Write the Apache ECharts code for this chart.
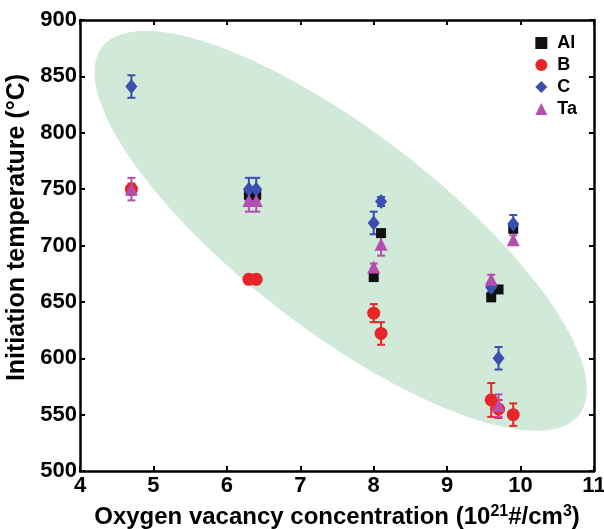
<!DOCTYPE html>
<html>
<head>
<meta charset="utf-8">
<script src="https://cdn.jsdelivr.net/npm/echarts@6/dist/echarts.min.js"></script>
<style>
  html, body { margin: 0; padding: 0; background: #fff; }
  #main { width: 604px; height: 529px; }
</style>
</head>
<body>
<div id="main"></div>
<script>
// 数据：[x, y, 误差]
var alData = [[6.3, 745, 0], [6.4, 745, 0], [8.0, 672, 0], [8.1, 711, 0], [9.6, 654, 0], [9.7, 661, 0], [9.9, 715, 0]];
var bData  = [[4.7, 750, 5], [6.3, 670, 4], [6.4, 670, 4], [8.0, 640, 8], [8.1, 622, 10], [9.6, 563, 15], [9.7, 555, 8], [9.9, 550, 10]];
var cData  = [[4.7, 841, 10], [6.3, 750, 10], [6.4, 750, 10], [8.0, 720, 10], [8.1, 739, 4], [9.6, 663, 4], [9.7, 600, 10], [9.9, 719, 8]];
var taData = [[4.7, 750, 10], [6.3, 740, 10], [6.4, 740, 10], [8.0, 681, 3], [8.1, 701, 10], [9.6, 670, 4], [9.7, 558, 10], [9.9, 705, 4]];

var xTicks = [4, 11, 1];
var yTicks = [500, 900, 50];

// 椭圆：长轴两端（数据坐标）和短轴/长轴比例
var ellipseEnds = [[4.3, 876], [10.8, 550]];
var ellipseRatio = 0.33;

var font = 'Liberation Sans, Arial, Helvetica, sans-serif';

function errSeries(name, data, color) {
    return {
        name: name + ' err',
        type: 'custom',
        z: 3,
        silent: true,
        data: data,
        renderItem: function (params, api) {
            var x = api.value(0), y = api.value(1), e = api.value(2);
            if (!e) return null;
            var top = api.coord([x, y + e]);
            var bot = api.coord([x, y - e]);
            var w = 4;
            var st = { stroke: color, lineWidth: 2 };
            return {
                type: 'group',
                children: [
                    { type: 'line', shape: { x1: top[0], y1: top[1], x2: bot[0], y2: bot[1] }, style: st },
                    { type: 'line', shape: { x1: top[0] - w, y1: top[1], x2: top[0] + w, y2: top[1] }, style: st },
                    { type: 'line', shape: { x1: bot[0] - w, y1: bot[1], x2: bot[0] + w, y2: bot[1] }, style: st }
                ]
            };
        }
    };
}

function pointSeries(name, data, color, symbol, size, z) {
    return {
        name: name,
        type: 'scatter',
        z: z,
        symbol: symbol,
        symbolSize: size,
        itemStyle: { color: color, opacity: 1 },
        data: data.map(function (d) { return [d[0], d[1]]; })
    };
}

var myChart = echarts.init(document.getElementById('main'));

var option = {
    animation: false,
    backgroundColor: '#fff',
    grid: { left: 80, right: 10, top: 20, bottom: 58, outerBoundsMode: 'none' },
    legend: {
        data: ['Al', 'B', 'C', 'Ta'],
        orient: 'vertical',
        right: 22,
        top: 29,
        itemWidth: 12,
        itemHeight: 12,
        itemGap: 4,
        textStyle: { fontFamily: font, fontWeight: 'bold', fontSize: 18, color: '#000', padding: [0, 0, 0, 5] }
    },
    xAxis: [{
        type: 'value',
        min: xTicks[0], max: xTicks[1], interval: xTicks[2],
        name: 'Oxygen vacancy concentration (10{sup|21}#/cm{sup|3})',
        nameLocation: 'middle',
        nameGap: 33,
        nameTextStyle: {
            fontFamily: font, fontWeight: 'bold', fontSize: 24, color: '#000',
            rich: { sup: { fontFamily: font, fontWeight: 'bold', fontSize: 16, color: '#000', verticalAlign: 'top', padding: [0, 0, 11, 0] } }
        },
        axisLine: { onZero: false, lineStyle: { color: '#000', width: 2.5 } },
        axisTick: { inside: true, length: 5, lineStyle: { color: '#000', width: 2 } },
        axisLabel: { fontFamily: font, fontWeight: 'bold', fontSize: 22, color: '#000', margin: 4 },
        splitLine: { show: false }
    }, {
        type: 'value', position: 'top',
        min: xTicks[0], max: xTicks[1], interval: xTicks[2],
        axisLine: { show: true, lineStyle: { color: '#000', width: 2.5 } },
        axisTick: { inside: true, length: 5, lineStyle: { color: '#000', width: 2 } },
        axisLabel: { show: false },
        splitLine: { show: false }
    }],
    yAxis: [{
        type: 'value',
        min: yTicks[0], max: yTicks[1], interval: yTicks[2],
        name: 'Initiation temperature (°C)',
        nameLocation: 'middle',
        nameGap: 50,
        nameMoveOverlap: false,
        nameTextStyle: { fontFamily: font, fontWeight: 'bold', fontSize: 25, color: '#000', padding: [0, 0, 0, 36] },
        axisLine: { show: true, onZero: false, lineStyle: { color: '#000', width: 2.5 } },
        axisTick: { show: true, inside: true, length: 5, lineStyle: { color: '#000', width: 2 } },
        axisLabel: { fontFamily: font, fontWeight: 'bold', fontSize: 22, color: '#000', margin: 3 },
        splitLine: { show: false }
    }, {
        type: 'value', position: 'right',
        min: yTicks[0], max: yTicks[1], interval: yTicks[2],
        axisLine: { show: true, lineStyle: { color: '#000', width: 2.5 } },
        axisTick: { show: true, inside: true, length: 5, lineStyle: { color: '#000', width: 2 } },
        axisLabel: { show: false },
        splitLine: { show: false }
    }],
    series: [
        {
            name: 'ellipse',
            type: 'custom',
            z: 1,
            silent: true,
            data: [[0]],
            renderItem: function (params, api) {
                var p1 = api.coord(ellipseEnds[0]);
                var p2 = api.coord(ellipseEnds[1]);
                var cx = (p1[0] + p2[0]) / 2, cy = (p1[1] + p2[1]) / 2;
                var dx = p2[0] - p1[0], dy = p2[1] - p1[1];
                var a = Math.sqrt(dx * dx + dy * dy) / 2;
                var b = a * ellipseRatio;
                var ang = Math.atan2(dy, dx);
                var pts = [];
                for (var i = 0; i < 120; i++) {
                    var t = i / 120 * Math.PI * 2;
                    var ex = a * Math.cos(t), ey = b * Math.sin(t);
                    pts.push([cx + ex * Math.cos(ang) - ey * Math.sin(ang),
                              cy + ex * Math.sin(ang) + ey * Math.cos(ang)]);
                }
                return { type: 'polygon', shape: { points: pts }, style: { fill: '#d0e9d8' } };
            }
        },
        errSeries('Al', alData, '#111'),
        pointSeries('Al', alData, '#111', 'rect', 10, 4),
        errSeries('B', bData, '#e8262a'),
        pointSeries('B', bData, '#e8262a', 'circle', 13, 5),
        errSeries('C', cData, '#3a4fb0'),
        pointSeries('C', cData, '#3a4fb0', 'diamond', [12, 15], 6),
        errSeries('Ta', taData, '#b44fb0'),
        pointSeries('Ta', taData, '#b44fb0', 'triangle', [13, 13], 7)
    ]
};

myChart.setOption(option);
</script>
</body>
</html>
